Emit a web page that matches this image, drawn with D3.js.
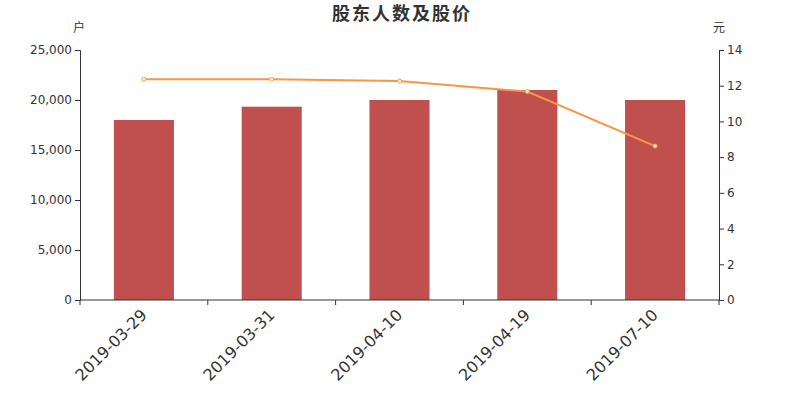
<!DOCTYPE html>
<html><head><meta charset="utf-8">
<script src="https://cdn.jsdelivr.net/npm/d3@7/dist/d3.min.js"></script>
<style>body{margin:0;background:#fff}svg{display:block}</style>
</head><body><svg id="c" width="800" height="400"></svg>
<script>
const categories = ["2019-03-29","2019-03-31","2019-04-10","2019-04-19","2019-07-10"];
const holders = [18000, 19330, 20000, 21000, 20000];
const prices = [12.36, 12.36, 12.26, 11.67, 8.62];
const leftTicks = [0, 5000, 10000, 15000, 20000, 25000];
const rightTicks = [0, 2, 4, 6, 8, 10, 12, 14];

const svg = d3.select("#c");
const m = {l: 80, r: 81, t: 50, b: 100};
const W = 800, H = 400;
const font = "'DejaVu Sans', 'Noto Sans CJK SC', sans-serif";
const cjk = "'Noto Sans CJK SC', sans-serif";

const x = d3.scaleBand().domain(categories).range([m.l, W - m.r]);
const yL = d3.scaleLinear().domain([0, 25000]).range([H - m.b, m.t]);
const yR = d3.scaleLinear().domain([0, 14]).range([H - m.b, m.t]);

svg.append("text").attr("x", 402).attr("y", 20).attr("text-anchor", "middle")
  .attr("font-family", cjk).attr("font-size", 18).attr("font-weight", "bold")
  .attr("letter-spacing", 2).attr("fill", "#333").text("股东人数及股价");

// bars
svg.append("g").selectAll("rect").data(holders).join("rect")
  .attr("x", (d, i) => x(categories[i]) + x.bandwidth() * 0.265)
  .attr("width", x.bandwidth() * 0.47)
  .attr("y", d => yL(d)).attr("height", d => yL(0) - yL(d))
  .attr("fill", "#c0504d");

// axes
const fmt = d3.format(",");
const gL = svg.append("g").attr("transform", `translate(${m.l},0)`)
  .call(d3.axisLeft(yL).tickValues(leftTicks).tickFormat(fmt).tickSize(5).tickPadding(3));
const gR = svg.append("g").attr("transform", `translate(${W - m.r},0)`)
  .call(d3.axisRight(yR).tickValues(rightTicks).tickSize(5).tickPadding(3));
const gX = svg.append("g").attr("transform", `translate(0,${H - m.b})`)
  .call(d3.axisBottom(x).tickSize(0).tickFormat(""));
const bounds = categories.map(c => x(c)).concat([x.range()[1]]);
gX.selectAll("line.bt").data(bounds).join("line").attr("class", "bt")
  .attr("x1", d => d).attr("x2", d => d).attr("y1", 0).attr("y2", 5).attr("stroke", "#333");
[gL, gR, gX].forEach(g => {
  g.select(".domain").attr("stroke", "#333");
  g.selectAll(".tick line").attr("stroke", "#333");
  g.selectAll(".tick text").attr("fill", "#333").attr("font-size", 12).attr("font-family", font);
});
gX.select(".domain").attr("d", `M${m.l},0H${W - m.r}`);

// x labels rotated
svg.append("g").selectAll("text").data(categories).join("text")
  .attr("transform", d => `translate(${x(d) + x.bandwidth() / 2},${H - m.b + 12}) rotate(-45)`)
  .attr("text-anchor", "end").attr("dy", "0.35em")
  .attr("font-family", font).attr("font-size", 16).attr("fill", "#333").text(d => d);

// unit labels
svg.append("text").attr("x", m.l - 1).attr("y", 32).attr("text-anchor", "middle")
  .attr("font-family", cjk).attr("font-size", 12).attr("fill", "#333").text("户");
svg.append("text").attr("x", W - m.r).attr("y", 32).attr("text-anchor", "middle")
  .attr("font-family", cjk).attr("font-size", 12).attr("fill", "#333").text("元");

// line
const line = d3.line().x((d, i) => x(categories[i]) + x.bandwidth() / 2).y(d => yR(d));
svg.append("path").datum(prices).attr("d", line).attr("fill", "none")
  .attr("stroke", "#f79646").attr("stroke-width", 2);
svg.append("g").selectAll("circle").data(prices).join("circle")
  .attr("cx", (d, i) => x(categories[i]) + x.bandwidth() / 2).attr("cy", d => yR(d))
  .attr("r", 2).attr("fill", "#fff").attr("stroke", "#f79646").attr("stroke-width", 1);
</script></body></html>
